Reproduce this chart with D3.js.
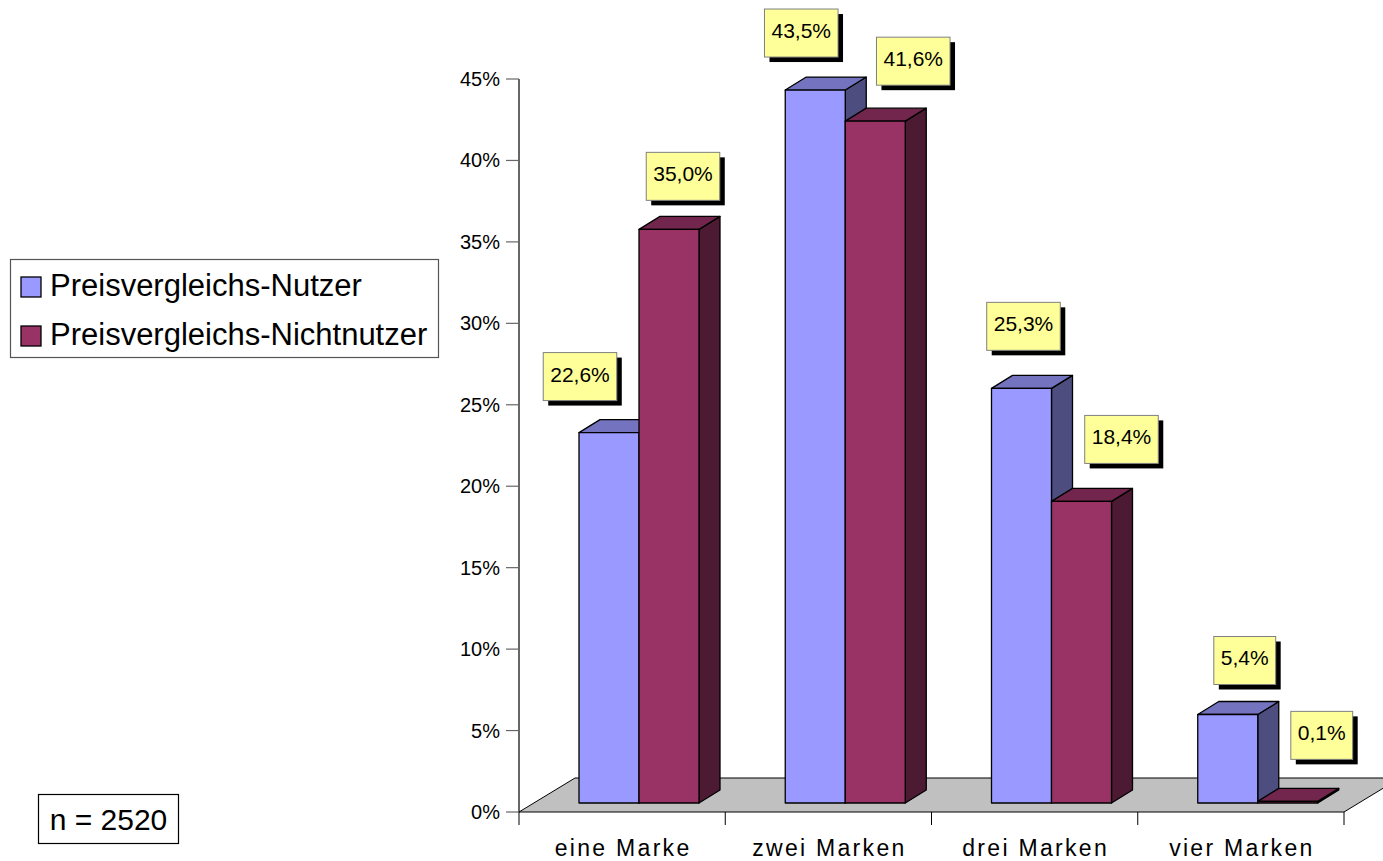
<!DOCTYPE html>
<html>
<head>
<meta charset="utf-8">
<script src="https://cdn.jsdelivr.net/npm/d3@7"></script>
<style>
  html, body { margin: 0; padding: 0; background: #fff; }
  svg { display: block; font-family: "Liberation Sans", Arial, sans-serif; }
</style>
</head>
<body>
<svg id="chart" width="1383" height="861"></svg>
<script>
// Anzahl der bevorzugten Marken, Anteil in Prozent
const categories = ["eine Marke", "zwei Marken", "drei Marken", "vier Marken"];
const seriesNames = ["Preisvergleichs-Nutzer", "Preisvergleichs-Nichtnutzer"];
const nutzer = [22.6, 43.5, 25.3, 5.4];
const nichtnutzer = [35.0, 41.6, 18.4, 0.1];
const yTicks = [0, 5, 10, 15, 20, 25, 30, 35, 40, 45];
const sampleNote = "n = 2520";

// hand-placed callout offsets [dx of box centre from bar centre, dy of box top from bar top]
const labelNudge = [
  [[-29, -80], [14, -77]],
  [[-14, -81], [38, -84]],
  [[2, -86], [40, -86]],
  [[17, -78], [34, -90]]
];

const seriesValues = [nutzer, nichtnutzer];
const colors = [
  { front: "#9999FF", top: "#7373BF", side: "#4D4D80" },
  { front: "#993366", top: "#73264D", side: "#4D1A33" }
];

const svg = d3.select("#chart");

// axis plane
const plotLeft = 519, plotRight = 1344;
const yAxis = d3.scaleLinear().domain([0, 45]).range([812, 79]);
// bars stand a little back on the floor, so their base sits higher
const barBase = 803, pxPerUnit = 16.39;
const yBar = d3.scaleLinear().domain([0, 45]).range([barBase, barBase - 45 * pxPerUnit]);

const x0 = d3.scaleBand().domain(categories).range([plotLeft, plotRight]);
const x1 = d3.scaleBand().domain(seriesNames).range([60, 180]);

const floorDepth = { dx: 56, dy: -34 };
const barDepth = { dx: 21, dy: -13 };

// floor
svg.append("polygon")
  .attr("points", [
    [plotLeft, yAxis(0)], [plotRight, yAxis(0)],
    [plotRight + floorDepth.dx, yAxis(0) + floorDepth.dy],
    [plotLeft + floorDepth.dx, yAxis(0) + floorDepth.dy]
  ].map(p => p.join(",")).join(" "))
  .attr("fill", "#C0C0C0")
  .attr("stroke", "#000")
  .attr("stroke-width", 1);

// y axis
svg.append("line")
  .attr("x1", plotLeft).attr("x2", plotLeft)
  .attr("y1", yAxis(45)).attr("y2", yAxis(0))
  .attr("stroke", "#000").attr("stroke-width", 1.2);

const yt = svg.append("g");
yt.selectAll("line").data(yTicks).join("line")
  .attr("x1", plotLeft - 13).attr("x2", plotLeft)
  .attr("y1", d => yAxis(d)).attr("y2", d => yAxis(d))
  .attr("stroke", "#666").attr("stroke-width", 1.2);
yt.selectAll("text").data(yTicks).join("text")
  .attr("x", plotLeft - 19)
  .attr("y", d => yAxis(d) + 7)
  .attr("text-anchor", "end")
  .attr("font-size", 20)
  .attr("fill", "#000")
  .text(d => d + "%");

// x axis category ticks
const xTickPos = categories.map(c => x0(c)).concat([plotRight]);
svg.append("g").selectAll("line").data(xTickPos).join("line")
  .attr("x1", d => d).attr("x2", d => d)
  .attr("y1", yAxis(0)).attr("y2", yAxis(0) + 13)
  .attr("stroke", "#000").attr("stroke-width", 1);

svg.append("g").selectAll("text").data(categories).join("text")
  .attr("x", d => x0(d) + x0.bandwidth() / 2 + 1)
  .attr("y", 856)
  .attr("text-anchor", "middle")
  .attr("font-size", 23)
  .attr("letter-spacing", "2.3px")
  .attr("fill", "#000")
  .text(d => d);

// 3D bars
const bars = svg.append("g");
categories.forEach((cat, ci) => {
  seriesNames.forEach((s, si) => {
    const v = seriesValues[si][ci];
    const xl = x0(cat) + x1(s);
    const xr = xl + x1.bandwidth();
    const yt0 = yBar(v), yb = yBar(0);
    const { dx, dy } = barDepth;
    const c = colors[si];
    const g = bars.append("g")
      .attr("stroke", "#000").attr("stroke-width", 1.3).attr("stroke-linejoin", "round");
    // right side
    g.append("polygon")
      .attr("points", [[xr, yb], [xr + dx, yb + dy], [xr + dx, yt0 + dy], [xr, yt0]].map(p => p.join(",")).join(" "))
      .attr("fill", c.side);
    // top
    g.append("polygon")
      .attr("points", [[xl, yt0], [xr, yt0], [xr + dx, yt0 + dy], [xl + dx, yt0 + dy]].map(p => p.join(",")).join(" "))
      .attr("fill", c.top);
    // front
    g.append("rect")
      .attr("x", xl).attr("y", yt0)
      .attr("width", xr - xl).attr("height", Math.max(0, yb - yt0))
      .attr("fill", c.front);
  });
});

// value callouts
const fmt = v => d3.format(".1f")(v).replace(".", ",") + "%";
const labels = svg.append("g");
categories.forEach((cat, ci) => {
  seriesNames.forEach((s, si) => {
    const v = seriesValues[si][ci];
    const cx = x0(cat) + x1(s) + x1.bandwidth() / 2 + labelNudge[ci][si][0];
    const top = yBar(v) + labelNudge[ci][si][1];
    const g = labels.append("g");
    const t = g.append("text")
      .attr("x", cx).attr("y", top + 29)
      .attr("text-anchor", "middle")
      .attr("font-size", 21)
      .attr("fill", "#000")
      .text(fmt(v));
    const w = t.node().getComputedTextLength() + 14;
    const h = 48;
    g.insert("rect", "text")
      .attr("x", cx - w / 2 + 5).attr("y", top + 5)
      .attr("width", w).attr("height", h)
      .attr("fill", "#000");
    g.insert("rect", "text")
      .attr("x", cx - w / 2).attr("y", top)
      .attr("width", w).attr("height", h)
      .attr("fill", "#FFFF99")
      .attr("stroke", "#808080").attr("stroke-width", 1);
  });
});

// legend
const legend = svg.append("g");
legend.append("rect")
  .attr("x", 10.5).attr("y", 259.5).attr("width", 428).attr("height", 98)
  .attr("fill", "#fff").attr("stroke", "#555").attr("stroke-width", 1.2);
seriesNames.forEach((s, i) => {
  const yy = 277 + i * 49;
  legend.append("rect")
    .attr("x", 21).attr("y", yy).attr("width", 20).attr("height", 20)
    .attr("fill", colors[i].front).attr("stroke", "#000").attr("stroke-width", 1.3);
  legend.append("text")
    .attr("x", 50).attr("y", yy + 19)
    .attr("font-size", 31)
    .attr("fill", "#000")
    .text(s);
});

// sample size note
const note = svg.append("g");
note.append("rect")
  .attr("x", 38.5).attr("y", 794.5).attr("width", 140).attr("height", 49)
  .attr("fill", "#fff").attr("stroke", "#000").attr("stroke-width", 1.2);
note.append("text")
  .attr("x", 108.5).attr("y", 830)
  .attr("text-anchor", "middle")
  .attr("font-size", 30)
  .attr("fill", "#000")
  .text(sampleNote);
</script>
</body>
</html>
